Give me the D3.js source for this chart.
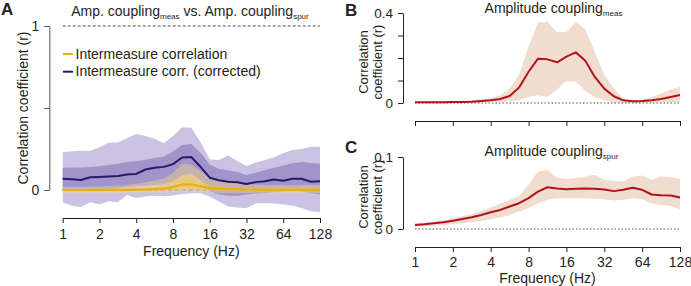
<!DOCTYPE html>
<html><head><meta charset="utf-8">
<script src="https://cdn.jsdelivr.net/npm/d3@7"></script>
<style>
body{margin:0;background:#fff}
svg text{font-family:"Liberation Sans",Arial,sans-serif;fill:#231f20}
</style>
</head><body>
<svg id="c" width="691" height="286"></svg>
<script>
// ---------- data ----------
const freqs = [1, 1.19, 1.41, 1.68, 2, 2.38, 2.83, 3.36, 4, 4.76, 5.66, 6.73, 8, 9.51, 11.3, 13.5, 16, 19, 22.6, 26.9, 32, 38.1, 45.3, 53.8, 64, 76.1, 90.5, 108, 128];
const xTickValues = [1, 2, 4, 8, 16, 32, 64, 128];

// Panel A: intermeasure correlation (corrected) - purple
const aCorrMean    = [0.069,0.066,0.061,0.078,0.08,0.082,0.085,0.095,0.098,0.125,0.136,0.141,0.158,0.198,0.201,0.14,0.075,0.059,0.05,0.047,0.036,0.048,0.053,0.064,0.057,0.069,0.069,0.05,0.053];
const aCorrOuterUp = [0.23,0.236,0.24,0.24,0.26,0.29,0.29,0.315,0.342,0.33,0.313,0.285,0.33,0.383,0.38,0.29,0.187,0.183,0.21,0.177,0.146,0.168,0.183,0.2,0.224,0.244,0.25,0.264,0.264];
const aCorrOuterLo = [-0.075,-0.096,-0.104,-0.075,-0.089,-0.069,-0.075,-0.03,-0.049,-0.04,-0.035,-0.038,-0.033,-0.025,-0.02,-0.02,-0.04,-0.07,-0.1,-0.106,-0.112,-0.083,-0.08,-0.083,-0.089,-0.096,-0.11,-0.13,-0.136];
const aCorrInnerUp = [0.136,0.137,0.137,0.14,0.145,0.152,0.16,0.17,0.175,0.185,0.195,0.205,0.234,0.275,0.28,0.225,0.155,0.13,0.12,0.11,0.092,0.105,0.122,0.136,0.15,0.163,0.17,0.165,0.16];
const aCorrInnerLo = [0.0,0.0,-0.002,0.002,0.003,0.005,0.01,0.018,0.022,0.026,0.03,0.035,0.05,0.09,0.1,0.06,-0.008,-0.028,-0.035,-0.035,-0.028,-0.022,-0.018,-0.014,-0.008,-0.004,-0.008,-0.018,-0.028];

// Panel A: intermeasure correlation (raw) - yellow
const aRawMean    = [0,0,0,0,0,0,0,0.001,0.002,0.003,0.005,0.009,0.018,0.033,0.035,0.022,0.012,0.008,0.006,0.005,0.003,0.002,0.002,0.001,0.001,0.001,0.001,0.001,0.001];
const aRawOuterUp = [0.02,0.02,0.02,0.02,0.022,0.024,0.027,0.03,0.038,0.048,0.058,0.07,0.105,0.16,0.155,0.115,0.073,0.065,0.055,0.045,0.035,0.032,0.03,0.03,0.03,0.03,0.03,0.03,0.03];
const aRawOuterLo = [-0.02,-0.02,-0.02,-0.02,-0.02,-0.02,-0.02,-0.02,-0.018,-0.017,-0.016,-0.015,-0.013,-0.012,-0.012,-0.014,-0.016,-0.018,-0.02,-0.02,-0.02,-0.02,-0.02,-0.02,-0.02,-0.02,-0.02,-0.02,-0.02];
const aRawInnerUp = [0.008,0.008,0.008,0.008,0.008,0.008,0.009,0.01,0.011,0.013,0.02,0.03,0.055,0.09,0.095,0.06,0.03,0.022,0.018,0.015,0.012,0.012,0.012,0.012,0.012,0.012,0.012,0.012,0.012];
const aRawInnerLo = [-0.008,-0.008,-0.008,-0.008,-0.008,-0.008,-0.008,-0.007,-0.006,-0.005,-0.004,-0.002,0.0,0.005,0.006,0.002,-0.003,-0.005,-0.006,-0.007,-0.008,-0.008,-0.008,-0.008,-0.008,-0.008,-0.008,-0.008,-0.008];

// Panel B: amplitude coupling (measured)
const bMean = [0.003,0.003,0.003,0.003,0.0045,0.0045,0.006,0.009,0.012,0.018,0.031,0.069,0.139,0.197,0.194,0.181,0.206,0.225,0.188,0.116,0.064,0.03,0.012,0.0075,0.009,0.012,0.018,0.027,0.036];
const bUp   = [0.004,0.005,0.006,0.007,0.009,0.01,0.012,0.016,0.022,0.034,0.064,0.124,0.251,0.358,0.36,0.315,0.316,0.36,0.328,0.228,0.124,0.064,0.019,0.009,0.015,0.027,0.042,0.06,0.072];
const bLo   = [0.0015,0.0015,0.0015,0.0015,0.002,0.002,0.002,0.003,0.004,0.006,0.008,0.012,0.027,0.034,0.027,0.06,0.097,0.094,0.054,0.027,0.012,0.003,0.001,0.001,0.001,0.002,0.003,0.004,0.005];

// Panel C: amplitude coupling (spurious)
const cMean = [0.0056,0.0065,0.0079,0.0093,0.0116,0.014,0.0163,0.0195,0.0233,0.0265,0.0312,0.0358,0.0428,0.052,0.058,0.0563,0.0553,0.0558,0.0563,0.0558,0.0549,0.0526,0.0544,0.0572,0.0544,0.0479,0.047,0.0465,0.0437];
const cUp   = [0.0079,0.0088,0.0098,0.012,0.0149,0.018,0.0209,0.025,0.0298,0.035,0.0405,0.046,0.0614,0.08,0.0823,0.0707,0.0693,0.0707,0.073,0.0753,0.0684,0.067,0.066,0.073,0.0744,0.0684,0.073,0.0721,0.0693];
const cLo   = [0.0033,0.0037,0.0042,0.0051,0.0065,0.0079,0.0093,0.0112,0.0135,0.0163,0.0195,0.0242,0.0288,0.0358,0.0405,0.0428,0.0428,0.0428,0.0428,0.0419,0.0414,0.0395,0.0405,0.0428,0.0414,0.0349,0.0335,0.0321,0.0274];

// ---------- drawing ----------
const svg = d3.select("#c");
const FONT = '"Liberation Sans",Arial,sans-serif';
const INK = "#231f20";

function band(g, x, y, up, lo, fill, op) {
  g.append("path")
    .attr("d", d3.area().x((d,i)=>x(freqs[i])).y0((d,i)=>y(lo[i])).y1(d=>y(d))(up))
    .attr("fill", fill).attr("fill-opacity", op).attr("stroke", "none");
}
function line(g, x, y, vals, color, w) {
  g.append("path")
    .attr("d", d3.line().x((d,i)=>x(freqs[i])).y(d=>y(d))(vals))
    .attr("fill", "none").attr("stroke", color).attr("stroke-width", w)
    .attr("stroke-linejoin", "round");
}
function styleAxis(g, color, fs) {
  g.attr("font-family", FONT).attr("font-size", fs || 14);
  g.selectAll("path.domain").attr("stroke", color || INK).attr("stroke-width", 1);
  g.selectAll(".tick line").attr("stroke", color || INK).attr("stroke-width", 1);
  g.selectAll(".tick text").attr("fill", INK);
}
function xAxis(x, yPos, labels, pad) {
  const g = svg.append("g").attr("transform", `translate(0,${yPos})`)
    .call(d3.axisBottom(x).tickValues(xTickValues)
      .tickFormat(labels ? d3.format("d") : () => "")
      .tickSize(5).tickSizeOuter(0).tickPadding(pad || 6));
  styleAxis(g);
  return g;
}
function yAxis(y, xPos, ticks, labelled, color, fmt, fs) {
  const g = svg.append("g").attr("transform", `translate(${xPos},0)`)
    .call(d3.axisLeft(y).tickValues(ticks)
      .tickFormat(d => labelled.includes(d) ? fmt(d) : "")
      .tickSize(5).tickSizeOuter(0).tickPadding(5));
  styleAxis(g, color, fs);
  return g;
}
function subTitle(x, y, parts) {
  const t = svg.append("text").attr("x", x).attr("y", y)
    .attr("text-anchor", "middle").attr("font-size", 14);
  parts.forEach(p => {
    if (p.sub) {
      t.append("tspan").attr("font-size", 8).attr("dy", 3).text(p.t);
    } else {
      t.append("tspan").attr("dy", p.after ? -3 : 0).text(p.t);
    }
  });
  return t;
}
function panelLetter(x, y, s) {
  svg.append("text").attr("x", x).attr("y", y).attr("font-size", 17)
    .attr("font-weight", "bold").text(s);
}

// ----- Panel A -----
const xA = d3.scaleLog().base(2).domain([1, 128]).range([62.7, 320]);
const yA = d3.scaleLinear().domain([0, 1]).range([190, 26]);
const gA = svg.append("g");
band(gA, xA, yA, aCorrOuterUp, aCorrOuterLo, "#cbc3e4", 1);
band(gA, xA, yA, aCorrInnerUp, aCorrInnerLo, "#a194cb", 1);
gA.append("line").attr("x1", xA(1)).attr("x2", xA(128)).attr("y1", yA(0)).attr("y2", yA(0))
  .attr("stroke", "#777").attr("stroke-width", 1.2).attr("stroke-dasharray", "4,3");
band(gA, xA, yA, aRawOuterUp, aRawOuterLo, "#f3d88a", 0.45);
band(gA, xA, yA, aRawInnerUp, aRawInnerLo, "#f0c850", 0.5);
line(gA, xA, yA, aCorrMean, "#2b1867", 2);
line(gA, xA, yA, aRawMean, "#e8b00f", 2.2);
gA.append("line").attr("x1", xA(1)).attr("x2", xA(128)).attr("y1", yA(1)).attr("y2", yA(1))
  .attr("stroke", INK).attr("stroke-width", 0.8).attr("stroke-dasharray", "3,2");

xAxis(xA, 218, true);
yAxis(yA, 49.3, [0, 0.5, 1], [0, 1], "#555", d3.format("d"), 14);
svg.append("text").attr("x", (62.7+320)/2).attr("y", 256).attr("text-anchor", "middle")
  .attr("font-size", 14).text("Frequency (Hz)");
svg.append("text").attr("transform", "translate(28,108) rotate(-90)").attr("text-anchor", "middle")
  .attr("font-size", 14).text("Correlation coefficient (r)");
subTitle(190, 16, [{t:"Amp. coupling"},{t:"meas",sub:true},{t:" vs. Amp. coupling",after:true},{t:"spur",sub:true}]);

// legend
const legend = [["Intermeasure correlation", "#e8b00f", 54], ["Intermeasure corr. (corrected)", "#2b1867", 71.7]];
legend.forEach(([lab, col, yy]) => {
  svg.append("line").attr("x1", 63).attr("x2", 73).attr("y1", yy).attr("y2", yy)
    .attr("stroke", col).attr("stroke-width", 2);
  svg.append("text").attr("x", 75.5).attr("y", yy + 4.5).attr("font-size", 14).text(lab);
});
panelLetter(1, 15, "A");

// ----- Panel B -----
const xB = d3.scaleLog().base(2).domain([1, 128]).range([415, 680]);
const yB = d3.scaleLinear().domain([0, 0.4]).range([103, 13]);
const gB = svg.append("g");
band(gB, xB, yB, bUp, bLo, "#f0ddd0", 1);
gB.append("line").attr("x1", xB(1)).attr("x2", xB(128)).attr("y1", yB(0)).attr("y2", yB(0))
  .attr("stroke", "#555").attr("stroke-width", 1.2).attr("stroke-dasharray", "1.5,2");
line(gB, xB, yB, bMean, "#b3141c", 2);
xAxis(xB, 121, false);
yAxis(yB, 403, [0, 0.1, 0.2, 0.3, 0.4], [0, 0.4], INK, d => d === 0 ? "0" : d3.format(".1f")(d), 13.5);
svg.append("text").attr("transform", "translate(368,62) rotate(-90)").attr("text-anchor", "middle")
  .attr("font-size", 13).text("Correlation");
svg.append("text").attr("transform", "translate(382,62) rotate(-90)").attr("text-anchor", "middle")
  .attr("font-size", 13).text("coefficient (r)");
subTitle(553.5, 12.8, [{t:"Amplitude coupling"},{t:"meas",sub:true}]);
panelLetter(345, 16, "B");

// ----- Panel C -----
const xC = d3.scaleLog().base(2).domain([1, 128]).range([415, 680]);
const yC = d3.scaleLinear().domain([0, 0.1]).range([229, 157]);
const gC = svg.append("g");
band(gC, xC, yC, cUp, cLo, "#f0ddd0", 1);
gC.append("line").attr("x1", xC(1)).attr("x2", xC(128)).attr("y1", yC(0)).attr("y2", yC(0))
  .attr("stroke", "#555").attr("stroke-width", 1.2).attr("stroke-dasharray", "1.5,2");
line(gC, xC, yC, cMean, "#b3141c", 2);
xAxis(xC, 247, true, 5);
yAxis(yC, 403, [0, 0.1], [0, 0.1], INK, d => d === 0 ? "0" : d3.format(".1f")(d), 13.5);
svg.append("text").attr("x", (415+680)/2).attr("y", 283).attr("text-anchor", "middle")
  .attr("font-size", 14).text("Frequency (Hz)");
svg.append("text").attr("transform", "translate(368,197) rotate(-90)").attr("text-anchor", "middle")
  .attr("font-size", 13).text("Correlation");
svg.append("text").attr("transform", "translate(382,197) rotate(-90)").attr("text-anchor", "middle")
  .attr("font-size", 13).text("coefficient (r)");
subTitle(551.5, 156, [{t:"Amplitude coupling"},{t:"spur",sub:true}]);
panelLetter(345, 153, "C");
</script>
</body></html>
